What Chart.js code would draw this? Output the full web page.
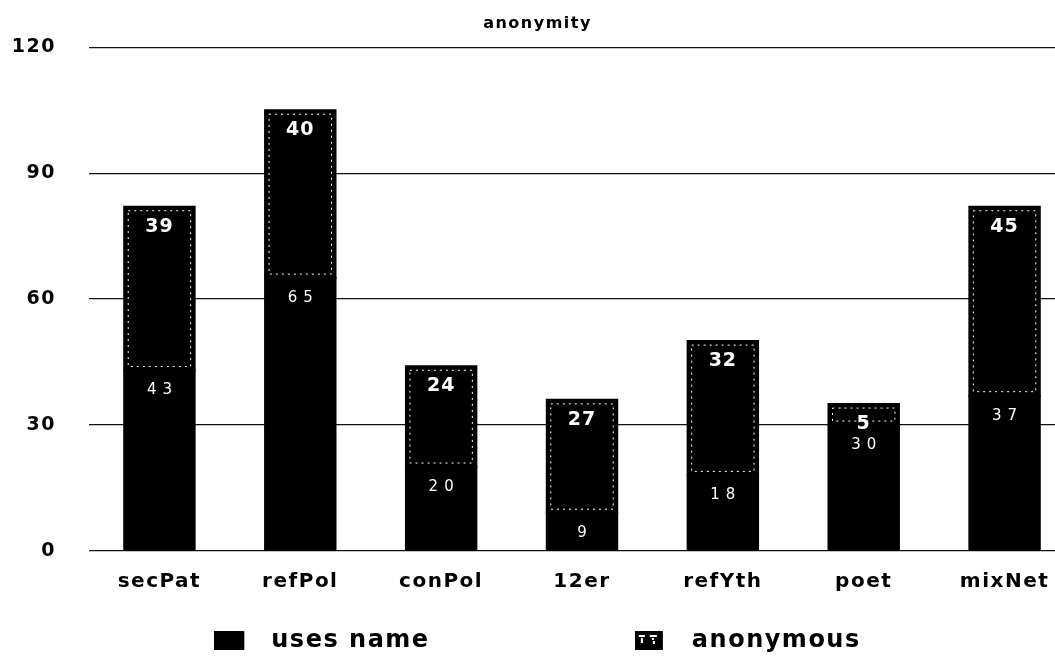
<!DOCTYPE html>
<html>
<head>
<meta charset="utf-8">
<script src="https://cdn.jsdelivr.net/npm/chart.js@4.4.1/dist/chart.umd.min.js"></script>
<style>
  html, body { margin: 0; padding: 0; background: #fff; overflow: hidden; }
  canvas { display: block; }
</style>
</head>
<body>
<canvas id="grafico" width="1075" height="656"></canvas>
<script>
const categorias = ['secPat', 'refPol', 'conPol', '12er', 'refYth', 'poet', 'mixNet'];
const usesName = [43, 65, 20, 9, 18, 30, 37];
const anonymous = [39, 40, 24, 27, 32, 5, 45];
const yTicks = [0, 30, 60, 90, 120];

const fonte = 'DejaVu Sans';

// legend swatches
function amostra(padrao) {
  const c = document.createElement('canvas');
  c.width = 45; c.height = 20;
  const g = c.getContext('2d');
  g.fillStyle = '#000';
  if (padrao) {
    g.fillRect(0, 0, 28, 19);
    g.fillStyle = '#fff';
    g.fillRect(4, 4, 6, 2); g.fillRect(6, 7, 2, 5);
    g.fillRect(15, 4, 7, 2); g.fillRect(17, 7, 2, 2); g.fillRect(18, 10, 2, 3);
  } else {
    g.fillRect(0, 0, 30, 19);
  }
  return c;
}
const amostras = [amostra(false), amostra(true)];

// wide lettering like the original
const espacamento = {
  id: 'espacamento',
  beforeUpdate(chart) { chart.ctx.letterSpacing = '1.5px'; },
  beforeDraw(chart) { chart.ctx.letterSpacing = '1.5px'; }
};

// dotted inner frame on the anonymous segment + value labels
const rotulos = {
  id: 'rotulos',
  afterDatasetsDraw(chart) {
    const ctx = chart.ctx;
    const meta1 = chart.getDatasetMeta(1);
    ctx.save();
    ctx.strokeStyle = '#fff';
    ctx.lineWidth = 1;
    ctx.setLineDash([2, 4]);
    meta1.data.forEach(el => {
      const l = el.x - el.width / 2 + 4, r = el.x + el.width / 2 - 4;
      const t = el.y + 4, b = el.base - 4;
      if (b - t > 4) ctx.strokeRect(l, t, r - l, b - t);
    });
    ctx.restore();

    [0, 1].forEach(i => {
      const meta = chart.getDatasetMeta(i);
      const vals = chart.data.datasets[i].data;
      ctx.save();
      ctx.fillStyle = '#fff';
      ctx.textAlign = 'center';
      ctx.textBaseline = 'middle';
      if (i === 0) {
        ctx.font = '15px "' + fonte + '"';
        ctx.letterSpacing = '6px';
      } else {
        ctx.font = 'bold 19px "' + fonte + '"';
        ctx.letterSpacing = '1px';
      }
      meta.data.forEach((el, j) => {
        ctx.fillText(String(vals[j]), el.x + (i === 0 ? 3 : 0), el.y + 20);
      });
      ctx.restore();
    });
  }
};

const ctx = document.getElementById('grafico').getContext('2d');

new Chart(ctx, {
  type: 'bar',
  data: {
    labels: categorias,
    datasets: [
      { label: 'uses name', data: usesName, backgroundColor: '#000', borderWidth: 0 },
      { label: 'anonymous', data: anonymous, backgroundColor: '#000', borderWidth: 0 }
    ]
  },
  options: {
    responsive: false,
    animation: false,
    events: [],
    datasets: {
      bar: { barPercentage: 1, categoryPercentage: 0.5, inflateAmount: 1 }
    },
    layout: { padding: 0 },
    scales: {
      x: {
        stacked: true,
        grid: { display: false },
        border: { display: false },
        ticks: {
          color: '#000',
          padding: 11,
          font: { family: fonte, size: 20, weight: 'bold' }
        },
        afterFit(scale) { scale.height = 60; }
      },
      y: {
        stacked: true,
        min: 0,
        max: 120,
        afterBuildTicks(scale) { scale.ticks = yTicks.map(v => ({ value: v })); },
        grid: { color: '#111', lineWidth: 1.3, drawTicks: false },
        border: { display: false },
        ticks: {
          color: '#000',
          padding: 33,
          font: { family: fonte, size: 19, weight: 'bold' }
        },
        afterFit(scale) { scale.width = 89; }
      }
    },
    plugins: {
      title: {
        display: true,
        text: 'anonymity',
        color: '#000',
        font: { family: fonte, size: 16, weight: 'bold' },
        padding: { top: 14, bottom: 14 }
      },
      legend: {
        display: true,
        position: 'bottom',
        maxHeight: 45,
        labels: {
          color: '#000',
          font: { family: fonte, size: 24, weight: 'bold' },
          usePointStyle: true,
          pointStyleWidth: 45,
          padding: 18,
          generateLabels(chart) {
            return chart.data.datasets.map((ds, i) => ({
              text: i === 0 ? ds.label + '\u00A0'.repeat(19) : ds.label,
              fillStyle: '#000',
              strokeStyle: '#000',
              lineWidth: 0,
              pointStyle: amostras[i],
              datasetIndex: i
            }));
          }
        }
      },
      tooltip: { enabled: false }
    }
  },
  plugins: [espacamento, rotulos]
});
</script>
</body>
</html>
